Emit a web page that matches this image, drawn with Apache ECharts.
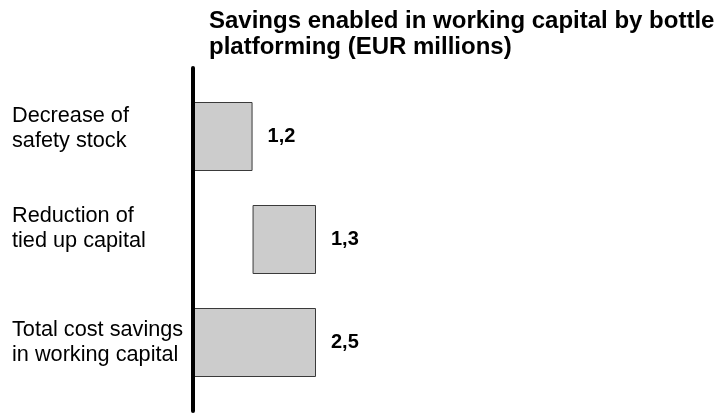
<!DOCTYPE html>
<html><head><meta charset="utf-8">
<script src="https://cdn.jsdelivr.net/npm/echarts@6/dist/echarts.min.js"></script>
<style>html,body{margin:0;padding:0;background:#fff}#c{width:715px;height:415px}</style>
</head><body><div id="c"></div>
<script>
var categories = ['Decrease of\nsafety stock', 'Reduction of\ntied up capital', 'Total cost savings\nin working capital'];
var baseValues = [0, 1.2, 0];
var barValues = [1.2, 1.3, 2.5];
var titleText = 'Savings enabled in working capital by bottle\nplatforming (EUR millions)';

var chart = echarts.init(document.getElementById('c'), null, {renderer: 'canvas'});
var font = 'Liberation Sans, Arial, sans-serif';
var labelShift = [16, 22, 0];
chart.setOption({
  animation: false,
  backgroundColor: '#fff',
  title: {
    text: titleText, left: 204, top: 3,
    textStyle: {fontFamily: font, fontSize: 24, fontWeight: 'bold', color: '#000', lineHeight: 26}
  },
  grid: {left: 194, right: 399, top: 85, bottom: 21},
  xAxis: {type: 'value', min: 0, max: 2.5, show: false},
  yAxis: {
    type: 'category', inverse: true, data: categories,
    axisLine: {show: false}, axisTick: {show: false}, splitLine: {show: false},
    axisLabel: {
      align: 'left', margin: 182, fontFamily: font, fontSize: 21.7, lineHeight: 25, color: '#000',
      formatter: function (v, i) { return labelShift[i] ? v + '\n{g' + i + '| }' : v; },
      rich: {g0: {lineHeight: 16, fontSize: 10}, g1: {lineHeight: 22, fontSize: 10}}
    }
  },
  graphic: [{
    type: 'line', z: 100,
    shape: {x1: 193, y1: 68, x2: 193, y2: 411},
    style: {stroke: '#000', lineWidth: 4, lineCap: 'round'}
  }],
  series: [
    {type: 'bar', stack: 'w', data: baseValues, barWidth: 69, silent: true,
     itemStyle: {color: 'rgba(0,0,0,0)', borderWidth: 0}},
    {type: 'bar', stack: 'w', data: barValues, barWidth: 69,
     itemStyle: {color: '#cccccc', borderColor: '#3a3a3a', borderWidth: 1},
     label: {show: true, position: 'right', distance: 15, fontFamily: font, fontSize: 20, fontWeight: 'bold', color: '#000',
       formatter: function(p){ return String(p.value).replace('.', ','); }}}
  ]
});
</script></body></html>
